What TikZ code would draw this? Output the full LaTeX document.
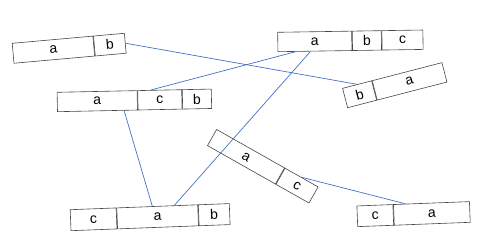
\documentclass[tikz,border=0pt]{standalone}
\usepackage{fontspec}
\setmainfont{Liberation Sans}
\usetikzlibrary{calc}
\definecolor{linkblue}{RGB}{68,114,196}
\definecolor{boxgray}{RGB}{70,70,70}
\begin{document}
\begin{tikzpicture}[
    x=1pt, y=-1pt,
    cell/.style={draw=boxgray, line width=0.6pt, anchor=west, inner sep=0pt,
        minimum height=20pt, font=\fontsize{14}{14}\selectfont},
    link/.style={draw=linkblue, line width=0.7pt}
]
    \useasboundingbox (0,0) rectangle (478,241);

    % Records
    \node[cell, minimum width=81pt, rotate=5.1] (r1a) at (12.8,53.3) {a};
    \node[cell, minimum width=31pt, rotate=5.1] (r1b) at (r1a.east) {b};

    \node[cell, minimum width=74pt, minimum height=19.4pt, rotate=0.9] (r2a) at (277.5,42) {a};
    \node[cell, minimum width=29pt, minimum height=19.4pt, rotate=0.9] (r2b) at (r2a.east) {b};
    \node[cell, minimum width=41pt, minimum height=19.4pt, rotate=0.9] (r2c) at (r2b.east) {c};

    \node[cell, minimum width=30pt, rotate=14.5] (r3b) at (344.8,98.1) {b};
    \node[cell, minimum width=72pt, rotate=14.5] (r3a) at (r3b.east) {a};

    \node[cell, minimum width=80pt, minimum height=19.4pt, rotate=1.2] (r4a) at (57,102) {a};
    \node[cell, minimum width=44pt, minimum height=19.4pt, rotate=1.2] (r4c) at (r4a.east) {c};
    \node[cell, minimum width=29pt, minimum height=19.4pt, rotate=1.2] (r4b) at (r4c.east) {b};

    \node[cell, minimum width=46pt, minimum height=21pt, rotate=2.2] (r5c) at (70.3,220.2) {c};
    \node[cell, minimum width=81pt, minimum height=21pt, rotate=2.2] (r5a) at (r5c.east) {a};
    \node[cell, minimum width=31pt, minimum height=21pt, rotate=2.2] (r5b) at (r5a.east) {b};

    \node[cell, minimum width=78pt, minimum height=18.5pt, rotate=-29.5] (r6a) at (211.8,137.4) {a};
    \node[cell, minimum width=38pt, minimum height=18.5pt, rotate=-29.5] (r6c) at (r6a.east) {c};

    \node[cell, minimum width=36pt, minimum height=20.7pt, rotate=2.2] (r7c) at (357,216.3) {c};
    \node[cell, minimum width=76pt, minimum height=20.7pt, rotate=2.2] (r7a) at (r7c.east) {a};

    % Links
    \draw[link] (r1b.east) -- (r3b.north);
    \draw[link] ($(r2a.south west)!0.24!(r2a.south east)$) -- ($(r4c.north west)!0.3!(r4c.north east)$);
    \draw[link] ($(r2a.south west)!0.44!(r2a.south east)$) -- ($(r5a.north west)!0.71!(r5a.north east)$);
    \draw[link] ($(r4a.south west)!0.83!(r4a.south east)$) -- ($(r5a.north west)!0.44!(r5a.north east)$);
    \draw[link] (r6c.north) -- ($(r7a.north west)!0.16!(r7a.north east)$);
\end{tikzpicture}
\end{document}
